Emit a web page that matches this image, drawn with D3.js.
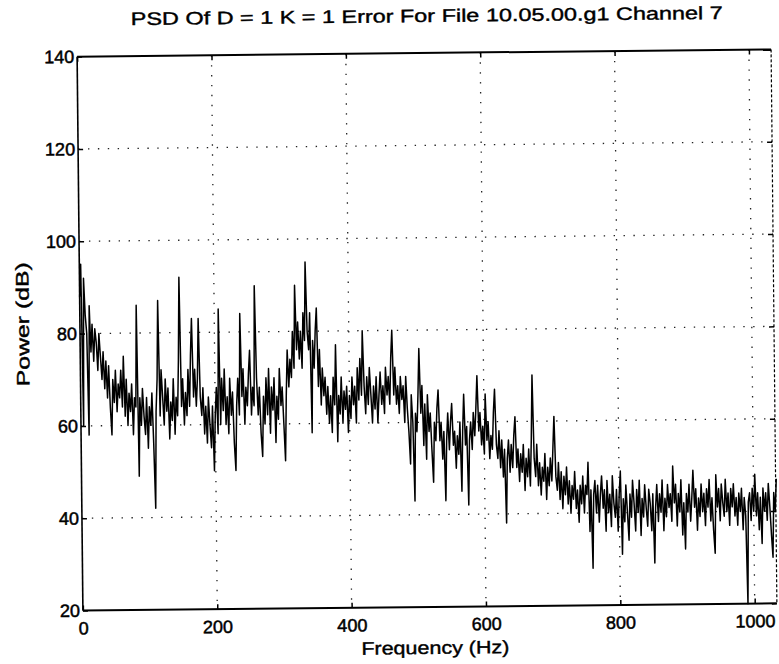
<!DOCTYPE html>
<html>
<head>
<meta charset="utf-8">
<script src="https://cdn.jsdelivr.net/npm/d3@7"></script>
<style>
  html, body { margin: 0; padding: 0; background: #fff; }
  text { font-family: "Liberation Sans", Arial, Helvetica, sans-serif; fill: #000; }
</style>
</head>
<body>
<script>
// ---------------- data ----------------
const titleText = "PSD Of D = 1 K = 1 Error For File 10.05.00.g1 Channel 7";
const xLabel = "Frequency (Hz)";
const yLabel = "Power (dB)";
const xTicks = [0, 200, 400, 600, 800, 1000];
const yTicks = [20, 40, 60, 80, 100, 120, 140];
const xDomain = [0, 1033];
const yDomain = [20, 140];
const freqStepHz = 2;   // spectral bin spacing; bin i is at i * freqStepHz Hz

// PSD values (dB), one per bin
const powerDb = [
  88,95,60,92,84,80,58,86,76,82,74,81,78,72,80,75,
  70,76,68,74,66,73,64,58,70,65,72,63,69,66,72,64,75,62,70,60,67,63,69,58,66,
  64,86,49,66,60,68,62,58,66,55,64,60,67,56,42,63,70,87,62,72,
  66,60,70,63,68,57,65,61,70,58,66,62,74,92,64,70,60,67,62,72,64,75,83,66,72,64,70,83,66,62,
  68,58,64,56,66,60,55,64,50,62,68,58,85,60,70,63,72,60,66,58,70,62,67,56,50,64,70,62,84,66,72,60,68,64,71,76,62,68,64,90,
  70,62,68,58,53,66,60,70,62,72,58,68,63,70,56,66,61,72,64,68,60,52,66,76,68,74,70,80,72,90,76,82,74,80,72,84,78,95,80,76,
  84,58,78,72,80,85,68,76,64,72,66,70,62,68,60,66,58,70,64,77,56,66,62,70,60,67,63,68,58,66,
  61,70,64,68,60,72,65,74,66,80,68,62,70,64,72,66,60,68,63,70,60,66,71,64,68,62,72,66,70,64,74,80,66,72,64,68,62,70,65,68,
  60,70,63,58,51,66,60,43,62,58,66,76,62,68,55,64,52,66,58,62,54,47,60,56,63,67,56,60,52,58,43,56,62,54,60,64,55,58,50,57,
  53,60,45,58,66,55,59,42,56,60,54,62,57,63,70,58,62,55,59,53,66,56,60,52,57,54,62,67,55,52,58,50,56,48,54,38,52,56,49,55,
  50,57,61,50,54,47,53,49,55,45,52,48,54,46,56,70,52,48,55,46,51,44,50,47,53,43,50,46,52,47,54,61,48,45,51,43,49,41,48,44,
  50,42,47,40,46,43,49,41,45,38,46,42,48,40,46,44,51,36,45,28,44,47,40,46,38,44,48,41,45,36,
  47,40,44,37,48,42,39,45,36,44,49,31,43,38,46,40,34,44,39,47,42,36,45,40,47,35,43,39,46,41,37,45,42,36,44,29,41,46,38,44,
  40,47,36,43,39,46,41,44,38,50,42,46,37,44,40,47,35,42,32,44,40,46,38,43,49,41,45,36,43,39,46,40,44,37,45,41,47,38,43,36,
  31,48,41,45,38,46,42,39,47,40,44,37,45,41,46,39,43,37,44,40,45,36,43,39,20,42,44,38,45,40,48,39,44,36,43,33,45,40,44,38,
  46,41,35,30,44,40,47
];

// ---------------- layout ----------------
const W = 779, H = 664;
const plot = { left: 80, right: 774, top: 53, bottom: 607 };

const svg = d3.select("body").append("svg").attr("width", W).attr("height", H);
svg.append("rect").attr("width", W).attr("height", H).attr("fill", "#fff");

// the scanned page is slightly tilted
const g = svg.append("g").attr("transform", "rotate(-0.6,427,330)");

const x = d3.scaleLinear().domain(xDomain).range([plot.left, plot.right]);
const y = d3.scaleLinear().domain(yDomain).range([plot.bottom, plot.top]);

// grid (dotted)
const grid = g.append("g").attr("stroke", "#222").attr("stroke-width", 1.3)
  .attr("stroke-dasharray", "1.4,8.5").attr("fill", "none");
xTicks.filter(t => t > xDomain[0]).forEach(t => {
  grid.append("line").attr("x1", x(t)).attr("x2", x(t)).attr("y1", plot.top).attr("y2", plot.bottom);
});
yTicks.filter(t => t > yDomain[0] && t < yDomain[1]).forEach(t => {
  grid.append("line").attr("x1", plot.left).attr("x2", plot.right).attr("y1", y(t)).attr("y2", y(t));
});

// data line
const line = d3.line()
  .x((d, i) => x(i * freqStepHz))
  .y(d => y(d));
g.append("path").datum(powerDb)
  .attr("d", line)
  .attr("fill", "none")
  .attr("stroke", "#000")
  .attr("stroke-width", 1.5)
  .attr("stroke-linejoin", "round");

// axes
const fontSize = 18;
const fmt = d3.format("d");
const axL = g.append("g").attr("transform", `translate(${plot.left},0)`)
  .call(d3.axisLeft(y).tickValues(yTicks).tickFormat(fmt).tickSizeInner(-5).tickSizeOuter(0).tickPadding(3));
const axB = g.append("g").attr("transform", `translate(0,${plot.bottom})`)
  .call(d3.axisBottom(x).tickValues(xTicks).tickFormat(fmt).tickSizeInner(-5).tickSizeOuter(0).tickPadding(11));
const axT = g.append("g").attr("transform", `translate(0,${plot.top})`)
  .call(d3.axisTop(x).tickValues(xTicks).tickSizeInner(-5).tickSizeOuter(0).tickFormat(""));
const axR = g.append("g").attr("transform", `translate(${plot.right},0)`)
  .call(d3.axisRight(y).tickValues(yTicks).tickSizeInner(-5).tickSizeOuter(0).tickFormat(""));
[axL, axB, axT, axR].forEach(a => {
  a.select(".domain").remove();
  a.selectAll("line").attr("stroke", "#000").attr("stroke-width", 1.5);
  a.selectAll("text").attr("font-size", fontSize)
    .attr("font-family", "'Liberation Sans', Arial, sans-serif")
    .attr("fill", "#000").attr("stroke", "#000").attr("stroke-width", 0.5);
});

// frame
g.append("line").attr("x1", plot.left).attr("x2", plot.right).attr("y1", plot.top).attr("y2", plot.top)
  .attr("stroke", "#000").attr("stroke-width", 2);
g.append("line").attr("x1", plot.left).attr("x2", plot.right).attr("y1", plot.bottom).attr("y2", plot.bottom)
  .attr("stroke", "#000").attr("stroke-width", 2);
g.append("line").attr("x1", plot.left).attr("x2", plot.left).attr("y1", plot.top).attr("y2", plot.bottom)
  .attr("stroke", "#000").attr("stroke-width", 1.6);
g.append("line").attr("x1", plot.right).attr("x2", plot.right).attr("y1", plot.top).attr("y2", plot.bottom)
  .attr("stroke", "#000").attr("stroke-width", 1.2).attr("stroke-dasharray", "3,2");

// title & labels
g.append("text").attr("x", 430).attr("y", 22)
  .attr("text-anchor", "middle").attr("font-size", 18)
  .attr("textLength", 592).attr("lengthAdjust", "spacingAndGlyphs")
  .attr("stroke", "#000").attr("stroke-width", 0.4)
  .text(titleText);
g.append("text").attr("x", 432).attr("y", 654)
  .attr("text-anchor", "middle").attr("font-size", 18)
  .attr("textLength", 148).attr("lengthAdjust", "spacingAndGlyphs")
  .attr("stroke", "#000").attr("stroke-width", 0.4)
  .text(xLabel);
g.append("text").attr("transform", "translate(29,320) rotate(-90)")
  .attr("text-anchor", "middle").attr("font-size", 18)
  .attr("textLength", 124).attr("lengthAdjust", "spacingAndGlyphs")
  .attr("stroke", "#000").attr("stroke-width", 0.4)
  .text(yLabel);
</script>
</body>
</html>
